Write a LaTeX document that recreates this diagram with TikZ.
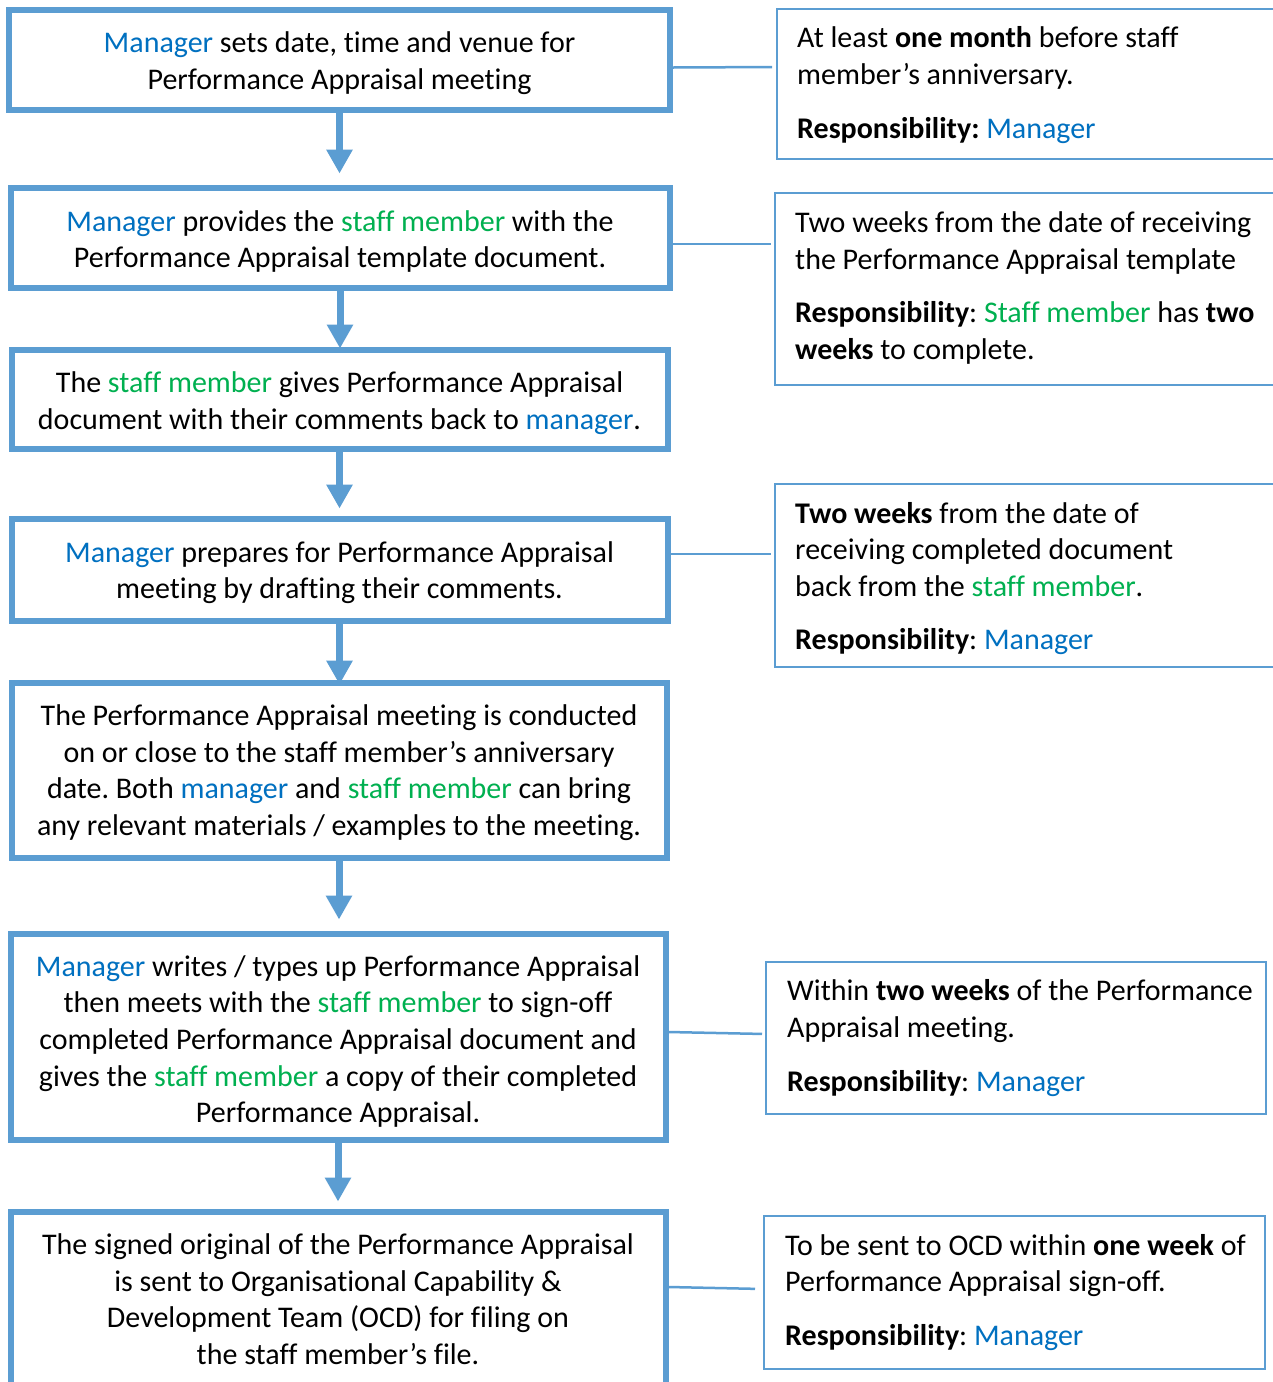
\documentclass[tikz,border=0pt]{standalone}
\usepackage{fontspec}
\setmainfont{Carlito}[Ligatures=NoCommon]
\usetikzlibrary{arrows.meta,calc}
\definecolor{boxblue}{RGB}{91,157,210}
\definecolor{mgrblue}{RGB}{0,112,192}
\definecolor{stfgreen}{RGB}{0,176,80}
\newcommand{\mgr}[1]{\textcolor{mgrblue}{#1}}
\newcommand{\stf}[1]{\textcolor{stfgreen}{#1}}
\begin{document}
\begin{tikzpicture}[x=1pt,y=-1pt,
  stepbox/.style={draw=boxblue, line width=6pt, inner sep=0pt},
  steptext/.style={align=center, inner sep=0pt,
    font=\frenchspacing\fontsize{30}{36.6}\selectfont},
  notebox/.style={draw=boxblue, line width=2.3pt, anchor=west, inner sep=0pt},
  notetext/.style={align=left, anchor=west, inner sep=0pt,
    font=\frenchspacing\fontsize{30}{36.6}\selectfont},
  flow/.style={draw=boxblue, line width=7pt, -{Triangle[width=25pt,length=24pt]}},
  link/.style={draw=boxblue, line width=2.5pt}
]
\useasboundingbox (0,0) rectangle (1273,1382);
\fill[white] (0,0) rectangle (1273,1382);

% left column boxes
\node[stepbox, minimum width=661pt, minimum height=100pt] (B1) at (339.5,60) {};
\node[stepbox, minimum width=659pt, minimum height=100pt] (B2) at (340,237.5) {};
\node[stepbox, minimum width=656pt, minimum height=99pt] (B3) at (339.5,399) {};
\node[stepbox, minimum width=656pt, minimum height=102pt] (B4) at (339.5,569.5) {};
\node[stepbox, minimum width=655pt, minimum height=175pt] (B5) at (339,770) {};
\node[stepbox, minimum width=655pt, minimum height=206pt] (B6) at (338,1036.5) {};
\node[stepbox, minimum width=655pt, minimum height=177pt] (B7) at (338,1300) {};

% left column texts
\node[steptext, yshift=-3pt] (T1) at (B1.center)
  {\mgr{Manager} sets date, time and venue for\\Performance Appraisal meeting};
\node[steptext, yshift=-4pt] (T2) at (B2.center)
  {\mgr{Manager} provides the \stf{staff member} with the\\Performance Appraisal template document.};
\node[steptext, yshift=-4pt] (T3) at (B3.center)
  {The \stf{staff member} gives Performance Appraisal\\document with their comments back to \mgr{manager}.};
\node[steptext, yshift=-3pt] (T4) at (B4.center)
  {\mgr{Manager} prepares for Performance Appraisal\\meeting by drafting their comments.};
\node[steptext, yshift=-2.5pt] (T5) at (B5.center)
  {The Performance Appraisal meeting is conducted\\on or close to the staff member’s anniversary\\date. Both \mgr{manager} and \stf{staff member} can bring\\any relevant materials / examples to the meeting.};
\node[steptext, yshift=-5pt] (T6) at (B6.center)
  {\mgr{Manager} writes / types up Performance Appraisal\\then meets with the \stf{staff member} to sign-off\\completed Performance Appraisal document and\\gives the \stf{staff member} a copy of their completed\\Performance Appraisal.};
\node[steptext, yshift=1pt] (T7) at (B7.center)
  {The signed original of the Performance Appraisal\\is sent to Organisational Capability \&\\Development Team (OCD) for filing on\\the staff member’s file.};

% right column boxes
\node[notebox, minimum width=540pt, minimum height=150pt] (R1) at (776,84) {};
\node[notebox, minimum width=540pt, minimum height=192pt] (R2) at (774,289) {};
\node[notebox, minimum width=540pt, minimum height=183pt] (R3) at (774,575.5) {};
\node[notebox, minimum width=500pt, minimum height=152pt] (R4) at (765,1038) {};
\node[notebox, minimum width=501pt, minimum height=153pt] (R5) at (763,1292.5) {};

% right column texts
\node[notetext, xshift=21pt, yshift=-1pt] (N1) at (R1.west)
  {At least \textbf{one month} before staff\\member’s anniversary.\\[17pt]\textbf{Responsibility:} \mgr{Manager}};
\node[notetext, xshift=21pt, yshift=1pt] (N2) at (R2.west)
  {Two weeks from the date of receiving\\the Performance Appraisal template\\[17pt]\textbf{Responsibility}: \stf{Staff member} has \textbf{two}\\\textbf{weeks} to complete.};
\node[notetext, xshift=21pt, yshift=-3pt] (N3) at (R3.west)
  {\textbf{Two weeks} from the date of\\receiving completed document\\back from the \stf{staff member}.\\[17pt]\textbf{Responsibility}: \mgr{Manager}};
\node[notetext, xshift=22pt] (N4) at (R4.west)
  {Within \textbf{two weeks} of the Performance\\Appraisal meeting.\\[17pt]\textbf{Responsibility}: \mgr{Manager}};
\node[notetext, xshift=22pt] (N5) at (R5.west)
  {To be sent to OCD within \textbf{one week} of\\Performance Appraisal sign-off.\\[17pt]\textbf{Responsibility}: \mgr{Manager}};

% flow arrows
\draw[flow, shorten >=11pt] (B1.south) -- (B1.south |- B2.north);
\draw[flow, shorten >=-2pt] (B2.south) -- (B2.south |- B3.north);
\draw[flow, shorten >=7pt] (B3.south) -- (B3.south |- B4.north);
\draw[flow, shorten >=-5pt] (B4.south) -- (B4.south |- B5.north);
\draw[flow, shorten >=11pt] (B5.south) -- (B5.south |- B6.north);
\draw[flow, shorten >=7pt] (B6.south) -- (B6.south |- B7.north);

% links to notes
\draw[link, shorten >=4pt] ([yshift=-7.5pt]B1.east) -- ([yshift=17pt]R1.west);
\draw[link, shorten >=3pt] ([yshift=-6.5pt]B2.east) -- ([yshift=45pt]R2.west);
\draw[link, shorten >=3pt] ([yshift=15.5pt]B4.east) -- ([yshift=21.5pt]R3.west);
\draw[link, shorten >=3pt] ([yshift=4.5pt]B6.east) -- ([yshift=4pt]R4.west);
\draw[link, shorten >=8pt] ([yshift=13pt]B7.east) -- ([yshift=3.5pt]R5.west);
\end{tikzpicture}
\end{document}
